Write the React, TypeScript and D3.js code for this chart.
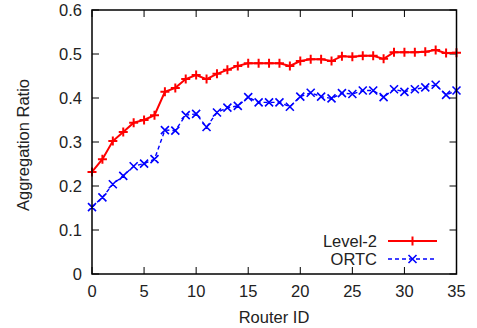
import * as d3 from "d3";

const routerIds = d3.range(0, 36);

const level2 = [
  0.232, 0.261, 0.302, 0.323, 0.344, 0.35, 0.361, 0.414, 0.423, 0.443, 0.452, 0.443,
  0.455, 0.464, 0.473, 0.479, 0.479, 0.479, 0.479, 0.473, 0.484, 0.488, 0.488, 0.484,
  0.495, 0.494, 0.496, 0.496, 0.489, 0.504, 0.504, 0.504, 0.505, 0.509, 0.502, 0.503,
];

const ortc = [
  0.152, 0.174, 0.204, 0.223, 0.245, 0.251, 0.261, 0.327, 0.326, 0.361, 0.364, 0.334,
  0.367, 0.378, 0.382, 0.402, 0.39, 0.39, 0.39, 0.38, 0.403, 0.412, 0.403, 0.399,
  0.411, 0.409, 0.417, 0.417, 0.402, 0.42, 0.414, 0.42, 0.424, 0.43, 0.407, 0.417,
];

const xTicks = [0, 5, 10, 15, 20, 25, 30, 35];
const yTicks = [0, 0.1, 0.2, 0.3, 0.4, 0.5, 0.6];

const W = 477;
const H = 328;
const FONT = "'Liberation Sans', Arial, sans-serif";
const FS = 16.5;

const plus = (cx: number, cy: number, s: number) =>
  `M${cx - s},${cy}H${cx + s}M${cx},${cy - s}V${cy + s}`;
const cross = (cx: number, cy: number, s: number) =>
  `M${cx - s},${cy - s}L${cx + s},${cy + s}M${cx - s},${cy + s}L${cx + s},${cy - s}`;

export default function App() {
  const x = d3.scaleLinear().domain([0, 35]).range([92, 456.5]);
  const y = d3.scaleLinear().domain([0, 0.6]).range([274, 10]);

  const line = d3
    .line<number>()
    .x((_, i) => x(routerIds[i]))
    .y((d) => y(d));

  const tick = 7;

  return (
    <svg
      width={W}
      height={H}
      style={{ position: "absolute", left: 0, top: 0, background: "#fff" }}
      fontFamily={FONT}
    >
      {/* ticks */}
      <g stroke="#000" strokeWidth={1}>
        {xTicks.map((t) => (
          <g key={"x" + t}>
            <line x1={x(t)} x2={x(t)} y1={y(0)} y2={y(0) - tick} />
            <line x1={x(t)} x2={x(t)} y1={y(0.6)} y2={y(0.6) + tick} />
          </g>
        ))}
        {yTicks.map((t) => (
          <g key={"y" + t}>
            <line x1={x(0)} x2={x(0) + tick} y1={y(t)} y2={y(t)} />
            <line x1={x(35)} x2={x(35) - tick} y1={y(t)} y2={y(t)} />
          </g>
        ))}
      </g>

      {/* ORTC */}
      <path
        d={line(ortc) ?? ""}
        fill="none"
        stroke="#0000ff"
        strokeWidth={1.4}
        strokeDasharray="4,3"
      />
      <path
        d={ortc.map((v, i) => cross(x(routerIds[i]), y(v), 4)).join("")}
        stroke="#0000ff"
        strokeWidth={1.6}
        fill="none"
      />

      {/* Level-2 */}
      <path d={line(level2) ?? ""} fill="none" stroke="#ff0000" strokeWidth={2} />
      <path
        d={level2.map((v, i) => plus(x(routerIds[i]), y(v), 4.5)).join("")}
        stroke="#ff0000"
        strokeWidth={2}
        fill="none"
      />

      {/* frame */}
      <rect
        x={x(0)}
        y={y(0.6)}
        width={x(35) - x(0)}
        height={y(0) - y(0.6)}
        fill="none"
        stroke="#000"
        strokeWidth={1.5}
      />

      {/* tick labels */}
      <g fontSize={FS} fill="#222">
        {xTicks.map((t) => (
          <text key={"xl" + t} x={x(t)} y={297} textAnchor="middle">
            {t}
          </text>
        ))}
        {yTicks.map((t) => (
          <text key={"yl" + t} x={82} y={y(t) + 6} textAnchor="end">
            {t === 0 ? "0" : t.toFixed(1)}
          </text>
        ))}
      </g>

      {/* axis titles */}
      <text x={274} y={323} textAnchor="middle" fontSize={FS} fill="#222">
        Router ID
      </text>
      <text
        transform={`translate(29,${y(0.3) + 3}) rotate(-90)`}
        textAnchor="middle"
        fontSize={FS}
        fill="#222"
      >
        Aggregation Ratio
      </text>

      {/* legend */}
      <g fontSize={FS} fill="#222">
        <text x={377} y={247} textAnchor="end">
          Level-2
        </text>
        <text x={377} y={265} textAnchor="end">
          ORTC
        </text>
      </g>
      <line x1={388} x2={437} y1={241} y2={241} stroke="#ff0000" strokeWidth={2} />
      <path d={plus(412.5, 241, 4.5)} stroke="#ff0000" strokeWidth={2} />
      <line
        x1={388}
        x2={437}
        y1={259}
        y2={259}
        stroke="#0000ff"
        strokeWidth={1.4}
        strokeDasharray="4,3"
      />
      <path d={cross(412.5, 259, 4)} stroke="#0000ff" strokeWidth={1.6} />
    </svg>
  );
}
